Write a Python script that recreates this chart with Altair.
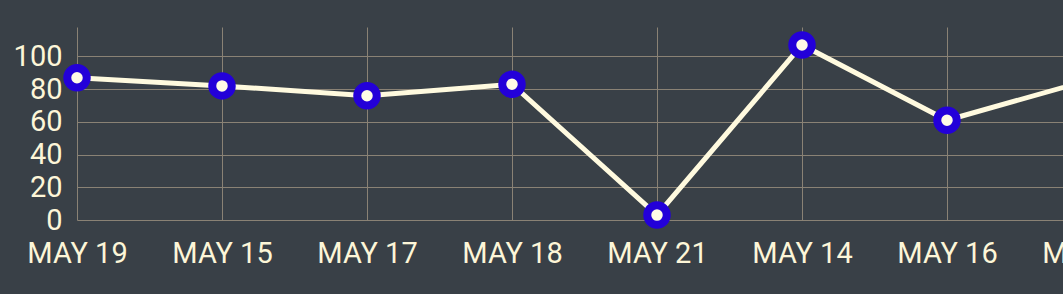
import altair as alt
import pandas as pd

dates = ["MAY 19", "MAY 15", "MAY 17", "MAY 18", "MAY 21", "MAY 14", "MAY 16", "MAY 20"]
values = [87, 82, 76, 83, 3, 107, 61, 86]
y_ticks = [0, 20, 40, 60, 80, 100]

df = pd.DataFrame({"date": dates, "value": values})

BG = "#394047"
GRID = "#8a8275"
TEXT = "#fdf6d8"
LINE = "#fffadf"
PFILL = "#fffbe6"
PSTROKE = "#2300d9"

x = alt.X(
    "date:N",
    sort=None,
    scale=alt.Scale(type="point", padding=0, range=[0, 1015]),
    axis=alt.Axis(
        title=None, labelAngle=0, domain=False, ticks=False, tickSize=0,
        labelPadding=19, labelFontSize=29, labelFont="Roboto", labelColor=TEXT,
        grid=True, gridColor=GRID, gridWidth=1, labelOverlap=False,
    ),
)
y = alt.Y(
    "value:Q",
    scale=alt.Scale(domain=[0, 118], nice=False, zero=True),
    axis=alt.Axis(
        title=None, values=y_ticks, domain=False, ticks=False, tickSize=0,
        labelPadding=15, labelFontSize=29, labelFont="Roboto", labelColor=TEXT,
        grid=True, gridColor=GRID, gridWidth=1,
    ),
)

base = alt.Chart(df)
line = base.mark_line(color=LINE, strokeWidth=5).encode(x=x, y=y)
points = base.mark_point(
    shape="circle", filled=False, fill=PFILL, fillOpacity=1, stroke=PSTROKE,
    strokeWidth=8, size=380, opacity=1,
).encode(x=x, y=y)

chart = (
    alt.layer(line, points)
    .properties(
        width=986,
        height=193,
        background=BG,
        padding={"left": 77, "top": 27, "right": 0, "bottom": 74},
        autosize=alt.AutoSizeParams(type="none"),
    )
    .configure_view(stroke=None)
)

chart.save("out.html", embed_options={"renderer": "svg", "actions": False})
